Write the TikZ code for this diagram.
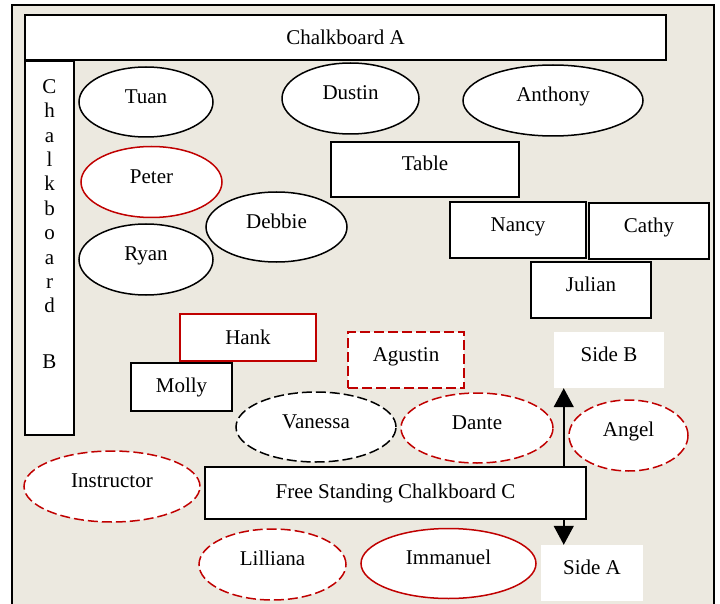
\documentclass[tikz,border=0pt]{standalone}
\usepackage{fontspec}
\setmainfont{Liberation Serif}
\usetikzlibrary{shapes.geometric, arrows.meta}

\begin{document}
\begin{tikzpicture}[x=1pt, y=-1pt,
  font=\fontsize{21}{24.4}\selectfont,
  seat/.style={ellipse, draw, fill=white, line width=1.5pt, inner sep=0pt},
  desk/.style={rectangle, draw, fill=white, line width=1.5pt, inner sep=0pt},
  gone/.style={draw=chalkred},
  loose/.style={dash pattern=on 10pt off 4pt},
  lifted/.style={text height=0.68em, text depth=0.42em},
  side/.style={rectangle, fill=white, inner sep=0pt, lifted},
  turn/.style={-{Triangle[length=19pt, width=20pt]}, line width=1.5pt}]

% Define colors of the room
\definecolor{roomfill}{RGB}{236,233,224}
\definecolor{chalkred}{RGB}{192,0,0}

% Page and room walls
\useasboundingbox (0,0) rectangle (720,604);
\fill[roomfill] (12,5) rectangle (714,612);
\draw[line width=1.5pt] (12,612) -- (12,5) -- (714,5) -- (714,612);

% Chalkboards A and B
\node[desk, minimum width=641pt, minimum height=45pt] (boardA) at (345.5,37.5) {Chalkboard A};
\node[desk, minimum width=49pt, minimum height=374pt] (boardB) at (49.5,248) {};
\node[anchor=north, align=center, inner sep=0pt] (boardBtext) at ([yshift=-19pt]boardB.north) {C\\h\\a\\l\\k\\b\\o\\a\\r\\d\\[31.6pt]B};

% Front row
\node[seat, lifted, minimum width=134pt, minimum height=70pt] (tuan) at (146,102) {Tuan};
\node[seat, lifted, minimum width=137pt, minimum height=71pt] (dustin) at (350.5,98.5) {Dustin};
\node[seat, lifted, minimum width=180pt, minimum height=71pt] (anthony) at (553,100.5) {Anthony};

% Left side seats
\node[seat, gone, lifted, minimum width=141pt, minimum height=71pt] (peter) at (151.5,182) {Peter};
\node[seat, lifted, minimum width=141pt, minimum height=70pt] (debbie) at (276.5,227) {Debbie};
\node[seat, lifted, minimum width=134pt, minimum height=71pt] (ryan) at (146,259.5) {Ryan};

% Table and desks on the right
\node[desk, lifted, minimum width=188pt, minimum height=55pt] (table) at (425,169.5) {Table};
\node[desk, lifted, minimum width=136pt, minimum height=56pt] (nancy) at (518,230) {Nancy};
\node[desk, lifted, minimum width=120pt, minimum height=56pt] (cathy) at (649,231) {Cathy};
\node[desk, lifted, minimum width=120pt, minimum height=56pt] (julian) at (591,290) {Julian};

% Middle desks
\node[desk, gone, minimum width=136pt, minimum height=47pt] (hank) at (248,337.5) {Hank};
\node[desk, minimum width=101pt, minimum height=48pt] (molly) at (181.5,387) {Molly};
\node[desk, gone, loose, lifted, minimum width=116pt, minimum height=56pt] (agustin) at (406,360) {Agustin};
\node[side, minimum width=110pt, minimum height=56pt] (sideB) at (609,360) {Side B};

% Seats behind chalkboard C
\node[seat, loose, lifted, minimum width=160pt, minimum height=70pt] (vanessa) at (316,427) {Vanessa};
\node[seat, gone, loose, lifted, minimum width=152pt, minimum height=70pt] (dante) at (477,428) {Dante};
\node[seat, gone, loose, lifted, minimum width=119pt, minimum height=71pt] (angel) at (628.5,435.5) {Angel};

% Free standing chalkboard and instructor
\node[desk, minimum width=381pt, minimum height=52pt] (boardC) at (395.5,493) {Free Standing Chalkboard C};
\node[seat, gone, loose, lifted, minimum width=176pt, minimum height=71pt] (instructor) at (112,486.5) {Instructor};

% Back row
\node[seat, gone, loose, lifted, minimum width=147pt, minimum height=71pt] (lilliana) at (272.5,564.5) {Lilliana};
\node[seat, gone, lifted, minimum width=175pt, minimum height=70pt] (immanuel) at (448.5,563.5) {Immanuel};
\node[side, minimum width=102pt, minimum height=56pt] (sideA) at (592,573) {Side A};

% Arrows to the two sides of chalkboard C
\coordinate (riseC) at ([xshift=-23pt]boardC.north east);
\coordinate (dropC) at ([xshift=-23pt]boardC.south east);
\draw[turn] (riseC) -- (riseC |- sideB.south);
\draw[turn] (dropC) -- (dropC |- sideA.north);

\end{tikzpicture}
\end{document}
